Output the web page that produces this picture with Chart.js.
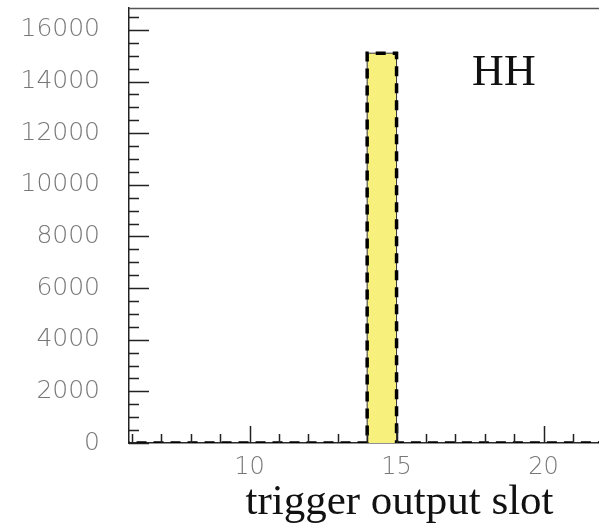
<!DOCTYPE html>
<html>
<head>
<meta charset="utf-8">
<script src="https://cdn.jsdelivr.net/npm/chart.js@4/dist/chart.umd.min.js"></script>
<style>
    html, body { margin: 0; padding: 0; background: #fff; overflow: hidden; }
    /* the original figure is cropped on the right, so the canvas runs past the window */
    #wrap { width: 670px; height: 529px; position: relative; }
</style>
</head>
<body>
<div id="wrap"><canvas id="chart_slot"></canvas></div>
<script>
// bin edges of the histogram (unit-wide bins) and the counts in each bin
const binEdges = [5, 6, 7, 8, 9, 10, 11, 12, 13, 14, 15, 16, 17, 18, 19, 20, 21, 22, 23, 24, 25];
const binCounts = [0, 0, 0, 0, 0, 0, 0, 0, 0, 15100, 0, 0, 0, 0, 0, 0, 0, 0, 0, 0];
const xTickLabels = [10, 15, 20];
const yTickLabels = [0, 2000, 4000, 6000, 8000, 10000, 12000, 14000, 16000];
const histLabel = 'HH';
const xTitle = 'trigger output slot';

// each point sits on the right edge of its bin
const stepData = [{ x: binEdges[0], y: 0 }].concat(
    binCounts.map((c, i) => ({ x: binEdges[i + 1], y: c }))
);

// frame, inside ticks and the "HH" label
const frameTicks = {
    id: 'frameTicks',
    afterDraw(chart) {
        const { ctx, chartArea: a, scales: { x, y } } = chart;
        ctx.save();
        ctx.strokeStyle = '#222';
        ctx.lineWidth = 1.5;
        ctx.beginPath();
        for (let v = Math.ceil(x.min); v <= x.max; v++) {
            const px = Math.round(x.getPixelForValue(v)) + 0.5;
            const len = xTickLabels.includes(v) ? 17 : 9;
            ctx.moveTo(px, a.bottom);
            ctx.lineTo(px, a.bottom - len);
        }
        for (let v = 0; v <= y.max; v += 500) {
            const py = Math.round(y.getPixelForValue(v)) + 0.5;
            const len = yTickLabels.includes(v) ? 20 : 10;
            ctx.moveTo(a.left, py);
            ctx.lineTo(a.left + len, py);
        }
        ctx.stroke();

        ctx.strokeStyle = '#555';
        ctx.lineWidth = 1.5;
        ctx.beginPath();
        ctx.moveTo(a.left, a.top + 0.5);
        ctx.lineTo(a.right, a.top + 0.5);
        ctx.stroke();

        ctx.fillStyle = '#111';
        ctx.font = '44px "Liberation Serif"';
        ctx.textAlign = 'center';
        ctx.textBaseline = 'alphabetic';
        ctx.fillText(histLabel, x.getPixelForValue(18.65), y.getPixelForValue(13880));
        ctx.restore();
    },
};

const ctxSlot = document.getElementById('chart_slot');
new Chart(ctxSlot, {
    type: 'line',
    data: {
        datasets: [
            {
                data: stepData,
                stepped: 'after',
                fill: 'origin',
                backgroundColor: '#f8f07c',
                borderColor: '#333',
                borderWidth: 1,
                pointRadius: 0,
                order: 2,
            },
            {
                data: stepData,
                stepped: 'after',
                fill: false,
                borderColor: '#000',
                borderWidth: 3.5,
                borderDash: [10, 7],
                borderCapStyle: 'butt',
                pointRadius: 0,
                order: 1,
            },
        ],
    },
    options: {
        responsive: true,
        maintainAspectRatio: false,
        animation: false,
        layout: { padding: { top: 8, right: 0, left: 0, bottom: 0 } },
        scales: {
            x: {
                type: 'linear',
                min: 5.9,
                max: 24.3,
                afterFit: (s) => {
                    s.height = 86;
                    s.paddingLeft = 0;
                    s.paddingRight = 0;
                },
                grid: { display: false, drawTicks: false },
                border: { display: true, color: '#222', width: 1.5 },
                afterBuildTicks: (s) => { s.ticks = xTickLabels.map((v) => ({ value: v })); },
                ticks: {
                    color: '#777',
                    padding: 10,
                    maxRotation: 0,
                    font: { family: '"DejaVu Sans"', size: 24, weight: 300 },
                },
                title: {
                    display: true,
                    text: xTitle,
                    color: '#111',
                    padding: { top: 0, bottom: 0 },
                    font: { family: '"Liberation Serif"', size: 43 },
                },
            },
            y: {
                min: 0,
                max: 16850,
                afterFit: (s) => {
                    s.width = 129;
                    s.paddingTop = 0;
                    s.paddingBottom = 0;
                },
                grid: { display: false, drawTicks: false },
                border: { display: true, color: '#222', width: 1.5 },
                afterBuildTicks: (s) => { s.ticks = yTickLabels.map((v) => ({ value: v })); },
                ticks: {
                    color: '#777',
                    padding: 29,
                    callback: (v) => String(v),
                    font: { family: '"DejaVu Sans"', size: 25, weight: 300 },
                },
            },
        },
        plugins: {
            legend: { display: false },
            title: { display: false },
            tooltip: { enabled: false },
        },
    },
    plugins: [frameTicks],
});
</script>
</body>
</html>
